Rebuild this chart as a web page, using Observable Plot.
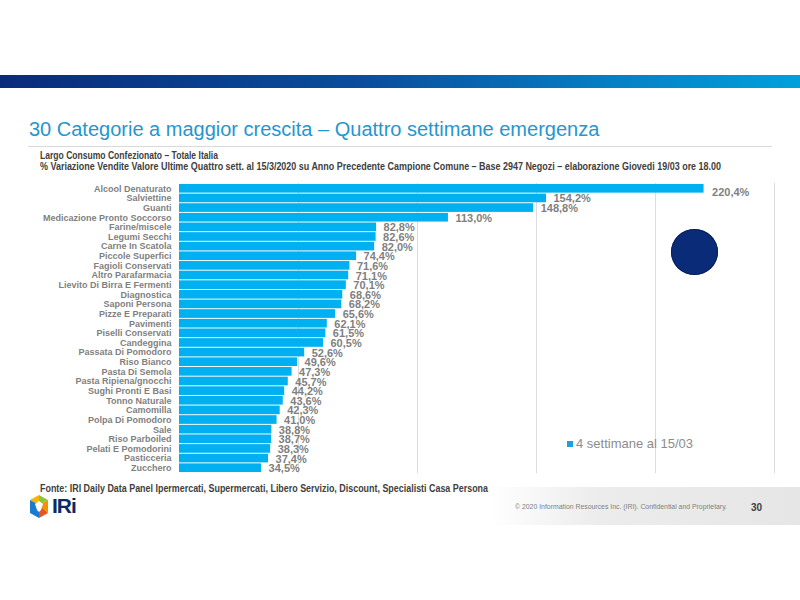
<!DOCTYPE html>
<html>
<head>
<meta charset="utf-8">
<script src="https://cdn.jsdelivr.net/npm/d3@7"></script>
<script src="https://cdn.jsdelivr.net/npm/@observablehq/plot@0.6"></script>
<style>
  html, body { margin: 0; padding: 0; background: #fff; }
  #page { position: relative; width: 800px; height: 600px; overflow: hidden; font-family: "Liberation Sans", Arial, sans-serif; }
  .abs { position: absolute; white-space: nowrap; }
  .fit { display: inline-block; transform-origin: left center; }
  #chart svg { display: block; }
</style>
</head>
<body>
<div id="page">
  <div class="abs" style="left:0;top:75px;width:800px;height:13px;background:linear-gradient(90deg,#0a2b7c 0%,#0a4d9c 45%,#0585c8 80%,#00a0dc 100%);"></div>
  <div class="abs" style="left:29px;top:118px;font-size:20px;color:#2596cf;">30 Categorie a maggior crescita – Quattro settimane emergenza</div>
  <div class="abs" style="left:28px;top:146px;width:744px;height:1px;background:#d9d9d9;"></div>
  <div class="abs" style="left:40px;top:150px;font-size:10px;font-weight:bold;color:#404040;"><span class="fit" data-w="178">Largo Consumo Confezionato – Totale Italia</span></div>
  <div class="abs" style="left:40px;top:161px;font-size:10px;font-weight:bold;color:#404040;"><span class="fit" data-w="681">% Variazione Vendite Valore Ultime Quattro sett. al 15/3/2020 su Anno Precedente Campione Comune – Base 2947 Negozi – elaborazione Giovedi 19/03 ore 18.00</span></div>
  <div id="chart" class="abs" style="left:0;top:176px;"></div>
  <div class="abs" style="left:671px;top:229px;width:47px;height:46px;border-radius:50%;background:#0a2c78;box-shadow:inset 0 0 0 1px #06205c;"></div>
  <div class="abs" style="left:567px;top:441px;width:6px;height:6px;background:#1fa0dc;"></div>
  <div class="abs" style="left:576px;top:436px;font-size:13px;color:#8c8c8c;line-height:16px;">4 settimane al 15/03</div>
  <div class="abs" style="left:490px;top:487px;width:310px;height:38px;background:linear-gradient(90deg,rgba(232,232,232,0) 0%,#ececec 35%,#e6e6e6 100%);"></div>
  <div class="abs" style="left:40px;top:483px;font-size:10px;font-weight:bold;color:#404040;"><span class="fit" data-w="448">Fonte: IRI Daily Data Panel Ipermercati, Supermercati, Libero Servizio, Discount, Specialisti Casa Persona</span></div>
  <svg class="abs" style="left:29px;top:495px;" width="20" height="24" viewBox="0 0 20 24">
    <polygon points="10,0 19,5 10,10" fill="#8cc63f"/>
    <polygon points="10,0 1,5 10,10" fill="#f7b500"/>
    <polygon points="1,5 1,18 10,23 10,10" fill="#1a7bd0"/>
    <polygon points="19,5 19,18 10,10" fill="#f39200"/>
    <polygon points="19,18 10,23 10,10" fill="#e8541e"/>
    <polygon points="10,6 14,9 12,15 10,17 8,15 6,9" fill="#fff"/>
  </svg>
  <div class="abs" style="left:52px;top:494px;font-size:21px;font-weight:bold;color:#0a2a66;letter-spacing:-1px;">IRi</div>
  <div class="abs" style="left:515px;top:502px;font-size:8px;color:#7f7f7f;"><span class="fit" data-w="212">© 2020  Information Resources Inc. (IRI). Confidential and Proprietary.</span></div>
  <div class="abs" style="left:751px;top:502px;font-size:10px;font-weight:bold;color:#404040;">30</div>
</div>
<script>
const categories = ["Alcool Denaturato","Salviettine","Guanti","Medicazione Pronto Soccorso","Farine/miscele","Legumi Secchi","Carne In Scatola","Piccole Superfici","Fagioli Conservati","Altro Parafarmacia","Lievito Di Birra E Fermenti","Diagnostica","Saponi Persona","Pizze E Preparati","Pavimenti","Piselli Conservati","Candeggina","Passata Di Pomodoro","Riso Bianco","Pasta Di Semola","Pasta Ripiena/gnocchi","Sughi Pronti E Basi","Tonno Naturale","Camomilla","Polpa Di Pomodoro","Sale","Riso Parboiled","Pelati E Pomodorini","Pasticceria","Zucchero"];
const values = [220.4,154.2,148.8,113.0,82.8,82.6,82.0,74.4,71.6,71.1,70.1,68.6,68.2,65.6,62.1,61.5,60.5,52.6,49.6,47.3,45.7,44.2,43.6,42.3,41.0,38.8,38.7,38.3,37.4,34.5];
const gridTicks = [50,100,150,200,250];
const seriesName = "4 settimane al 15/03";

const data = categories.map((c, i) => ({category: c, value: values[i], idx: i}));
const fmt = v => v.toFixed(1).replace(".", ",") + "%";

const chart = Plot.plot({
  width: 800,
  height: 302,
  marginLeft: 179,
  marginRight: 26,
  marginTop: 7,
  marginBottom: 5,
  style: {fontFamily: "'Liberation Sans', Arial, sans-serif", color: "#7f7f7f", background: "transparent"},
  x: {domain: [0, 250], axis: null},
  y: {domain: categories, padding: 0.1, round: false, label: null},
  marks: [
    Plot.ruleX(gridTicks, {stroke: "#dcdcdc", strokeWidth: 1}),
    Plot.barX(data, {x: "value", y: "category", fill: "#00b0f0"}),
    Plot.axisY({tickSize: 0, tickPadding: 8, fontSize: 9, fontWeight: "bold", fill: "#7f7f7f", label: null}),
    Plot.text(data.filter(d => d.idx === 0), {x: "value", y: "category", text: d => fmt(d.value), textAnchor: "start", dx: 8, dy: 3.5, fontSize: 11, fontWeight: "bold", fill: "#7f7f7f"}),
    Plot.text(data.filter(d => d.idx !== 0), {x: "value", y: "category", text: d => fmt(d.value), textAnchor: "start", dx: 7, dy: 0.5, fontSize: 11, fontWeight: "bold", fill: "#7f7f7f"})
  ]
});
document.getElementById("chart").appendChild(chart);

document.querySelectorAll(".fit").forEach(el => {
  const w = el.getBoundingClientRect().width;
  const target = +el.dataset.w;
  if (w > 0) el.style.transform = `scaleX(${target / w})`;
});
</script>
</body>
</html>
